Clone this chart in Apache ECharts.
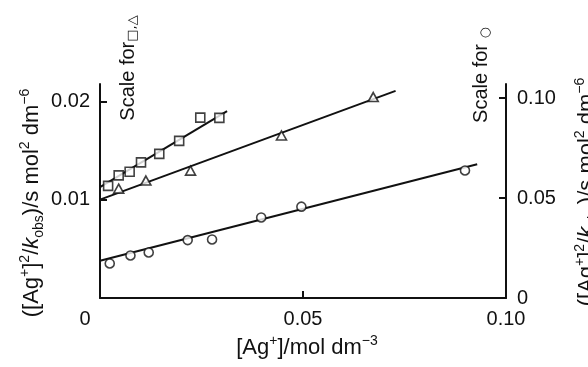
<!DOCTYPE html>
<html>
<head>
<meta charset="utf-8">
<script src="https://cdn.jsdelivr.net/npm/echarts@6.0.0/dist/echarts.min.js"></script>
<style>
  html, body { margin: 0; padding: 0; background: #fff; }
  #chart { width: 588px; height: 367px; }
</style>
</head>
<body>
<div id="chart"></div>
<script>
// ---- data ----
// squares (left scale)
const agSquare = [0.0020, 0.0046, 0.0073, 0.0101, 0.0146, 0.0195, 0.0247, 0.0294];
const valSquare = [0.01141, 0.01248, 0.01285, 0.01380, 0.01466, 0.01598, 0.01835, 0.01832];
// triangles (left scale)
const agTriangle = [0.0046, 0.0113, 0.0223, 0.0447, 0.0673];
const valTriangle = [0.01113, 0.01195, 0.01296, 0.01653, 0.02044];
// circles (right scale)
const agCircle = [0.0024, 0.0075, 0.0120, 0.0216, 0.0276, 0.0397, 0.0496, 0.0899];
const valCircle = [0.0173, 0.0213, 0.0228, 0.0290, 0.0293, 0.0403, 0.0457, 0.0638];
// fitted straight lines (end points)
const fitSquareX = [0, 0.0313];
const fitSquareY = [0.01128, 0.0190];
const fitTriangleX = [0, 0.0728];
const fitTriangleY = [0.01001, 0.02107];
const fitCircleX = [0, 0.0929];
const fitCircleY = [0.01865, 0.0669];
// tick labels
const xTickValues = [0, 0.05, 0.10];
const xTickLabels = ['0', '0.05', '0.10'];
const leftTickValues = [0.01, 0.02];
const leftTickLabels = ['0.01', '0.02'];
const rightTickValues = [0, 0.05, 0.10];
const rightTickLabels = ['0', '0.05', '0.10'];

const FONT = '"Liberation Sans", Arial, Helvetica, sans-serif';
const INK = '#111';

function pairs(xs, ys) { return xs.map((x, i) => [x, ys[i]]); }
function lookup(values, labels, v) {
  for (let i = 0; i < values.length; i++) {
    if (Math.abs(values[i] - v) < 1e-9) return labels[i];
  }
  return '';
}

const richLabel = {
  sup: { fontSize: 14, lineHeight: 14, verticalAlign: 'top', fontFamily: FONT, color: INK, fill: INK },
  sub: { fontSize: 14, lineHeight: 14, verticalAlign: 'bottom', fontFamily: FONT, color: INK, fill: INK },
  it: { fontSize: 22, lineHeight: 28, fontStyle: 'italic', fontFamily: FONT, color: INK, fill: INK },
  sym: { fontSize: 13, lineHeight: 14, verticalAlign: 'bottom', fontFamily: '"DejaVu Sans", sans-serif', color: INK, fill: INK }
};

const yTitle = '([Ag{sup|+}]{sup|2}/{it|k}{sub|obs})/s mol{sup|2} dm{sup|\u22126}';

const chart = echarts.init(document.getElementById('chart'), null, { renderer: 'canvas' });

const textStyleBase = {
  fontFamily: FONT, fill: INK,
  align: 'center', verticalAlign: 'middle', textAlign: 'center', textVerticalAlign: 'middle'
};

const option = {
  backgroundColor: '#fff',
  animation: false,
  grid: { left: 100, right: 82, top: 84, bottom: 65, containLabel: false },
  xAxis: {
    type: 'value', min: 0, max: 0.10, interval: 0.05,
    axisLine: { show: true, lineStyle: { color: INK, width: 2 } },
    axisTick: { show: true, inside: true, length: 7, lineStyle: { color: INK, width: 2 } },
    splitLine: { show: false },
    axisLabel: {
      margin: 11, fontSize: 20, fontFamily: FONT, color: INK,
      formatter: v => {
        const t = lookup(xTickValues, xTickLabels, v);
        return Math.abs(v) < 1e-12 ? '{z|' + t + '}' : t;
      },
      rich: { z: { fontSize: 20, fontFamily: FONT, color: INK, padding: [0, 30, 0, 0] } }
    },
    name: '[Ag{sup|+}]/mol dm{sup|\u22123}',
    nameLocation: 'middle', nameGap: 30,
    nameTextStyle: { fontSize: 22, lineHeight: 28, fontFamily: FONT, color: INK, padding: [0, 0, 0, 8], rich: richLabel }
  },
  yAxis: [
    {
      type: 'value', min: 0, max: 0.021767, interval: 0.01, position: 'left',
      axisLine: { show: true, lineStyle: { color: INK, width: 2 } },
      axisTick: { show: true, inside: true, length: 7, customValues: leftTickValues, lineStyle: { color: INK, width: 2 } },
      splitLine: { show: false },
      axisLabel: {
        margin: 10, fontSize: 20, fontFamily: FONT, color: INK,
        customValues: leftTickValues,
        formatter: v => lookup(leftTickValues, leftTickLabels, v)
      }
    },
    {
      type: 'value', min: 0, max: 0.10702, interval: 0.05, position: 'right',
      axisLine: { show: true, onZero: false, lineStyle: { color: INK, width: 2 } },
      axisTick: { show: true, inside: true, length: 7, customValues: [0.05, 0.10], lineStyle: { color: INK, width: 2 } },
      splitLine: { show: false },
      axisLabel: {
        margin: 11, fontSize: 20, fontFamily: FONT, color: INK,
        customValues: rightTickValues,
        formatter: v => lookup(rightTickValues, rightTickLabels, v)
      }
    }
  ],
  series: [
    {
      type: 'line', yAxisIndex: 0, data: pairs(fitSquareX, fitSquareY), symbol: 'none',
      lineStyle: { color: INK, width: 2 }, z: 2, silent: true
    },
    {
      type: 'line', yAxisIndex: 0, data: pairs(fitTriangleX, fitTriangleY), symbol: 'none',
      lineStyle: { color: INK, width: 2 }, z: 2, silent: true
    },
    {
      type: 'line', yAxisIndex: 1, data: pairs(fitCircleX, fitCircleY), symbol: 'none',
      lineStyle: { color: INK, width: 2 }, z: 2, silent: true
    },
    {
      type: 'scatter', yAxisIndex: 0, data: pairs(agSquare, valSquare), symbol: 'rect', symbolSize: 9,
      itemStyle: { color: '#fff', borderColor: INK, borderWidth: 1.6 }, z: 5
    },
    {
      type: 'scatter', yAxisIndex: 0, data: pairs(agTriangle, valTriangle), symbol: 'triangle', symbolSize: [10, 9],
      itemStyle: { color: '#fff', borderColor: INK, borderWidth: 1.6 }, z: 5
    },
    {
      type: 'scatter', yAxisIndex: 1, data: pairs(agCircle, valCircle), symbol: 'circle', symbolSize: 9,
      itemStyle: { color: '#fff', borderColor: INK, borderWidth: 1.6 }, z: 5
    }
  ],
  graphic: [
    {
      type: 'text', x: 32, y: 203, rotation: Math.PI / 2,
      style: Object.assign({ text: yTitle, rich: richLabel, fontSize: 22, lineHeight: 28 }, textStyleBase)
    },
    {
      type: 'text', x: 587, y: 192, rotation: Math.PI / 2,
      style: Object.assign({ text: yTitle, rich: richLabel, fontSize: 22, lineHeight: 28 }, textStyleBase)
    },
    {
      type: 'text', x: 128, y: 68, rotation: Math.PI / 2,
      style: Object.assign({ text: 'Scale for{sym|\u25A1,\u25B3}', rich: richLabel, fontSize: 20, lineHeight: 22 }, textStyleBase)
    },
    {
      type: 'text', x: 481, y: 75, rotation: Math.PI / 2,
      style: Object.assign({ text: 'Scale for {sym|\u25CB}', rich: richLabel, fontSize: 20, lineHeight: 22 }, textStyleBase)
    }
  ]
};

chart.setOption(option);
</script>
</body>
</html>
